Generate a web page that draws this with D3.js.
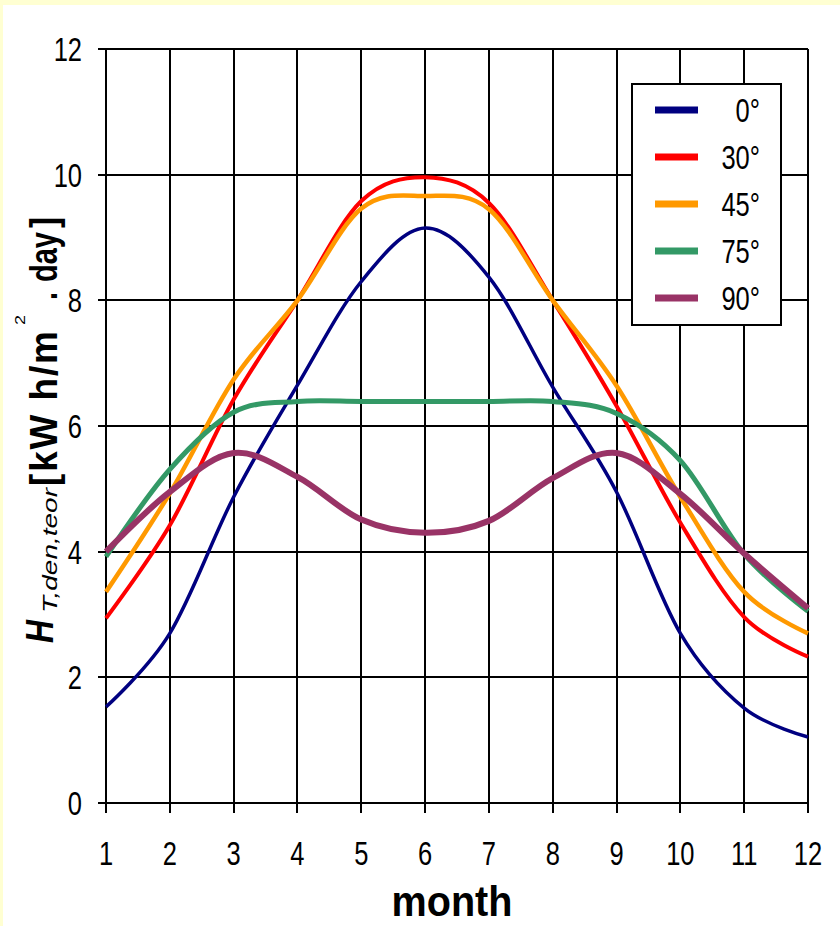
<!DOCTYPE html>
<html>
<head>
<meta charset="utf-8">
<script src="https://cdn.jsdelivr.net/npm/d3@7"></script>
<style>
  html, body { margin: 0; padding: 0; background: #ffffd2; }
  svg { display: block; }
  text { font-family: "Liberation Sans", Arial, sans-serif; fill: #000; }
</style>
</head>
<body>
<svg id="chart" width="840" height="926"></svg>
<script>
// ---------- data ----------
const months = [1, 2, 3, 4, 5, 6, 7, 8, 9, 10, 11, 12];
const yTicks = [0, 2, 4, 6, 8, 10, 12];
const seriesNames = ["0°", "30°", "45°", "75°", "90°"];
const seriesColors = ["#000080", "#ff0000", "#ff9900", "#339966", "#993366"];
const seriesWidths = [3.5, 4, 4.5, 5, 6];
const tilt0  = [1.53, 2.70, 4.87, 6.65, 8.30, 9.15, 8.37, 6.62, 4.95, 2.70, 1.51, 1.05];
const tilt30 = [2.94, 4.42, 6.42, 8.00, 9.58, 9.96, 9.55, 8.00, 6.32, 4.46, 2.96, 2.33];
const tilt45 = [3.36, 4.93, 6.74, 8.00, 9.46, 9.66, 9.45, 8.00, 6.64, 4.87, 3.36, 2.70];
const tilt75 = [3.92, 5.31, 6.22, 6.39, 6.39, 6.39, 6.39, 6.39, 6.20, 5.45, 3.96, 3.05];
const tilt90 = [4.00, 4.95, 5.57, 5.19, 4.51, 4.30, 4.49, 5.17, 5.57, 4.92, 3.97, 3.10];
const seriesValues = [tilt0, tilt30, tilt45, tilt75, tilt90];

// ---------- layout ----------
const svg = d3.select("#chart");
svg.append("rect").attr("x", 3).attr("y", 5).attr("width", 837).attr("height", 921).attr("fill", "#ffffff");

const x = d3.scaleLinear().domain([1, 12]).range([106, 808]);
const y = d3.scaleLinear().domain([0, 12]).range([803, 49]);

// grid lines (via scales)
const grid = svg.append("g").attr("stroke", "#000").attr("stroke-width", 2).attr("shape-rendering", "crispEdges");
grid.selectAll("line.h").data(yTicks).join("line")
  .attr("x1", x(1) - 8).attr("x2", x(12))
  .attr("y1", d => y(d)).attr("y2", d => y(d));
grid.selectAll("line.v").data(months).join("line")
  .attr("y1", y(12)).attr("y2", y(0) + 10)
  .attr("x1", d => x(d)).attr("x2", d => x(d));

// text helper: squeezed horizontally like the bitmap font of the reference
function label(parent, str, px, py, size, anchor, sx, weight) {
  return parent.append("text")
    .attr("transform", `translate(${px},${py}) scale(${sx},1)`)
    .attr("text-anchor", anchor)
    .attr("font-size", size)
    .attr("font-weight", weight || "normal")
    .text(str);
}

// axis tick labels
const tl = svg.append("g");
yTicks.forEach(v => label(tl, String(v), 82, y(v) + 12, 34, "end", 0.75));
months.forEach(m => label(tl, String(m), x(m), 865, 34, "middle", 0.75));

// series lines
const line = d3.line()
  .x((d, i) => x(months[i]))
  .y(d => y(d))
  .curve(d3.curveCatmullRom.alpha(0));
const lines = svg.append("g").attr("fill", "none");
seriesValues.forEach((vals, k) => {
  lines.append("path")
    .attr("d", line(vals))
    .attr("stroke", seriesColors[k])
    .attr("stroke-width", seriesWidths[k])
    .attr("stroke-linejoin", "round");
});

// legend
const lg = svg.append("g");
lg.append("rect").attr("x", 632).attr("y", 84).attr("width", 149).attr("height", 241)
  .attr("fill", "#fff").attr("stroke", "#000").attr("stroke-width", 2);
seriesNames.forEach((name, k) => {
  const ly = 110 + k * 47;
  lg.append("line").attr("x1", 655).attr("x2", 698).attr("y1", ly).attr("y2", ly)
    .attr("stroke", seriesColors[k]).attr("stroke-width", 7);
  label(lg, name, 760, ly + 12, 34, "end", 0.75);
});

// x axis title
const mt = svg.append("text")
  .attr("font-size", 43).attr("font-weight", "bold").attr("text-anchor", "middle")
  .text("month");
{
  const w = mt.node().getComputedTextLength();
  mt.attr("transform", `translate(452,916) scale(${121 / w},1)`);
}

// y axis title (rotated), drawn piece by piece and fitted along its length
function rotText(str, fromY, toY, baseX, size, weight, style, spacing) {
  const t = svg.append("text")
    .attr("font-size", size)
    .attr("font-weight", weight || "normal")
    .attr("font-style", style || "normal")
    .attr("letter-spacing", spacing || 0)
    .attr("xml:space", "preserve")
    .text(str);
  const w = t.node().getComputedTextLength() - (spacing || 0);
  t.attr("transform", `translate(${baseX},${fromY}) rotate(-90) scale(${(fromY - toY) / w},1)`);
  return t;
}
rotText("H", 643, 620, 53, 39, "bold", "italic");
rotText("T,den,teor", 613, 488, 57, 21, "normal", "italic");
rotText("[kW h/m", 486, 331, 57, 39, "bold", "normal", 2);
rotText("2", 325, 315, 25, 15, "normal");
rotText(".", 300, 292, 57, 39, "bold");
rotText("day", 282, 232, 57, 39, "bold");
rotText("]", 228, 217, 57, 39, "bold");
</script>
</body>
</html>
